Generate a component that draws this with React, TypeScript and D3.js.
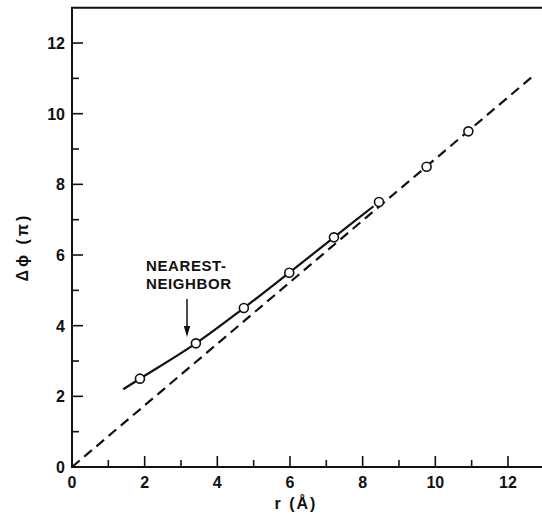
import React, { useRef, useEffect } from 'react'
import * as d3 from 'd3'

// measured points (r in Å, phase shift in units of pi)
const pointR = [1.87, 3.41, 4.73, 5.98, 7.21, 8.45, 9.76, 10.91]
const pointPhi = [2.5, 3.5, 4.5, 5.5, 6.5, 7.5, 8.5, 9.5]

// solid curve (nearest-neighbor fit)
const curveR = [1.41, 1.87, 3.41, 4.73, 5.98, 7.21, 8.3]
const curvePhi = [2.2, 2.5, 3.5, 4.5, 5.5, 6.5, 7.38]

// dashed straight line
const lineR = [0, 12.65]
const linePhi = [0, 11.03]

const majorTicks = [0, 2, 4, 6, 8, 10, 12]
const minorTicks = [1, 3, 5, 7, 9, 11]

const App = () => {
  const svgRef = useRef<SVGSVGElement>(null)

  useEffect(() => {
    if (!svgRef.current) return
    const svg = d3.select(svgRef.current)
    svg.selectAll('*').remove()

    const width = 542
    const height = 514
    const x = d3.scaleLinear().domain([0, 13]).range([72, 544.3])
    const y = d3.scaleLinear().domain([0, 13]).range([467, 7.7])
    const font = "'Liberation Sans', Arial, sans-serif"

    svg.append('rect').attr('width', width).attr('height', height).attr('fill', 'white')

    // frame: left, top, bottom
    svg.append('path')
      .attr('d', `M${x(13)},${y(13)}H${x(0)}V${y(0)}H${x(13)}`)
      .attr('fill', 'none')
      .attr('stroke', '#111')
      .attr('stroke-width', 2)

    // ticks (inward)
    const g = svg.append('g').attr('stroke', '#111').attr('stroke-width', 1.6)
    majorTicks.concat(minorTicks).forEach(t => {
      const len = majorTicks.includes(t) ? 11 : 7
      if (t > 0) {
        g.append('line').attr('x1', x(t)).attr('x2', x(t)).attr('y1', y(0)).attr('y2', y(0) - len)
        g.append('line').attr('x1', x(0)).attr('x2', x(0) + len).attr('y1', y(t)).attr('y2', y(t))
      }
    })

    // tick labels
    majorTicks.forEach(t => {
      svg.append('text')
        .attr('x', x(t)).attr('y', y(0) + 21)
        .attr('text-anchor', 'middle')
        .attr('font-family', font).attr('font-size', 16).attr('font-weight', 'bold')
        .attr('fill', '#111')
        .text(t)
      svg.append('text')
        .attr('x', x(0) - 7).attr('y', y(t) + 6)
        .attr('text-anchor', 'end')
        .attr('font-family', font).attr('font-size', 16).attr('font-weight', 'bold')
        .attr('fill', '#111')
        .text(t)
    })

    // axis titles
    svg.append('text')
      .attr('x', 296).attr('y', 509)
      .attr('text-anchor', 'middle')
      .attr('font-family', font).attr('font-size', 16).attr('font-weight', 'bold')
      .attr('letter-spacing', 2)
      .attr('fill', '#111')
      .text('r (Å)')
    svg.append('text')
      .attr('transform', 'translate(28,247) rotate(-90)')
      .attr('text-anchor', 'middle')
      .attr('font-family', font).attr('font-size', 16).attr('font-weight', 'bold')
      .attr('letter-spacing', 3)
      .attr('fill', '#111')
      .text('Δϕ (π)')

    // dashed line
    const lineGen = d3.line<[number, number]>().x(d => x(d[0])).y(d => y(d[1]))
    svg.append('path')
      .attr('d', lineGen(d3.zip(lineR, linePhi) as [number, number][]))
      .attr('fill', 'none')
      .attr('stroke', '#111')
      .attr('stroke-width', 2.2)
      .attr('stroke-dasharray', '10,6')

    // solid curve
    const curveGen = d3.line<[number, number]>()
      .x(d => x(d[0])).y(d => y(d[1]))
      .curve(d3.curveCatmullRom)
    svg.append('path')
      .attr('d', curveGen(d3.zip(curveR, curvePhi) as [number, number][]))
      .attr('fill', 'none')
      .attr('stroke', '#111')
      .attr('stroke-width', 2.2)

    // points
    svg.append('g')
      .selectAll('circle')
      .data(d3.zip(pointR, pointPhi))
      .join('circle')
      .attr('cx', d => x(d[0]))
      .attr('cy', d => y(d[1]))
      .attr('r', 4.5)
      .attr('fill', 'white')
      .attr('stroke', '#111')
      .attr('stroke-width', 1.6)

    // annotation
    const ann = svg.append('text')
      .attr('font-family', font).attr('font-size', 15).attr('font-weight', 'bold')
      .attr('letter-spacing', 0.6)
      .attr('fill', '#111')
    ann.append('tspan').attr('x', 146).attr('y', 270.5).text('NEAREST-')
    ann.append('tspan').attr('x', 146).attr('y', 288.5).text('NEIGHBOR')

    svg.append('line')
      .attr('x1', 187).attr('x2', 187).attr('y1', 299).attr('y2', 328)
      .attr('stroke', '#111').attr('stroke-width', 1.5)
    svg.append('path')
      .attr('d', 'M183.8,326 L187,337 L190.2,326 Z')
      .attr('fill', '#111')
  }, [])

  return (
    <div>
      <svg ref={svgRef} width={542} height={514}
        style={{ position: 'absolute', left: 0, top: 0 }} />
    </div>
  )
}

export default App
